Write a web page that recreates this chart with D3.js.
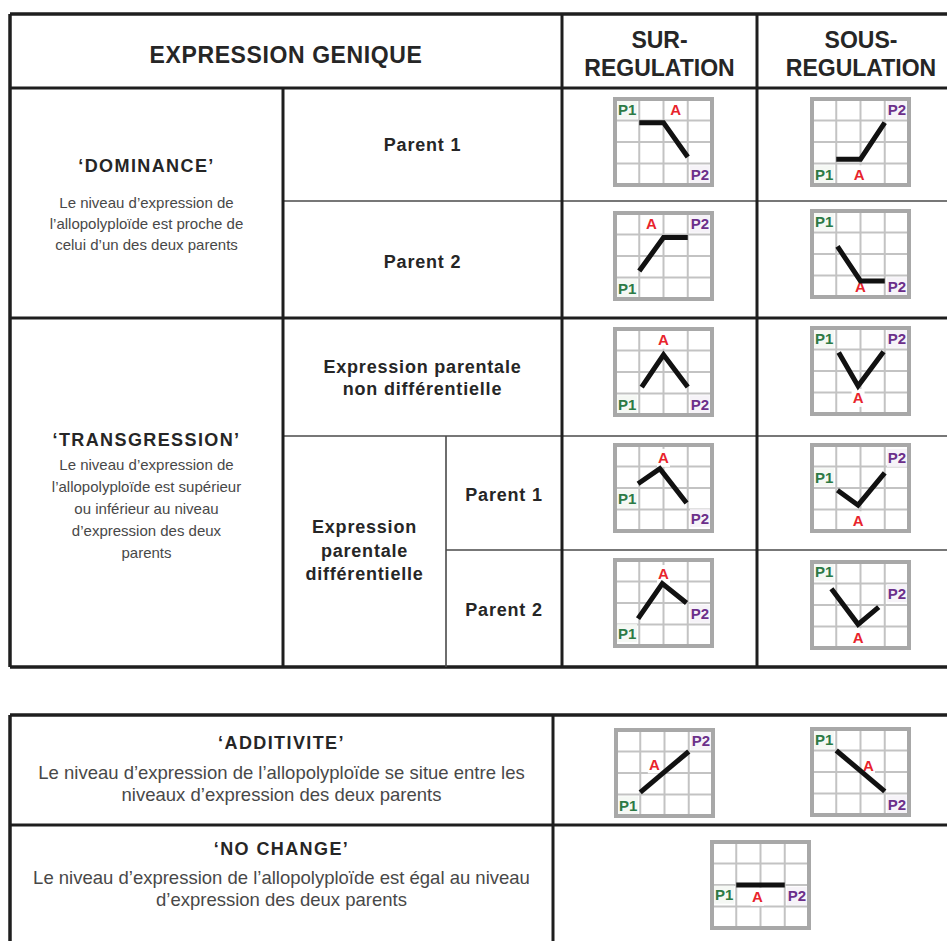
<!DOCTYPE html>
<html>
<head>
<meta charset="utf-8">
<script src="https://cdn.jsdelivr.net/npm/d3@7"></script>
<style>
  html, body { margin: 0; padding: 0; background: #fff; }
  svg { display: block; }
</style>
</head>
<body>
<div id="chart"></div>
<script>
// ---------------- DATA ----------------
const charts = ["domP1Sur","domP1Sous","domP2Sur","domP2Sous","transNdSur","transNdSous",
                "transD1Sur","transD1Sous","transD2Sur","transD2Sous","addSur","addSous","noChange"];
// grid units: x 0..4 (left->right), level 0..4 (bottom->top)
const p1X   = [1.0, 1.0, 1.0, 1.05, 1.1, 1.1, 0.95, 1.05, 0.95, 0.8, 1.0, 1.0, 1.0];
const p1Lvl = [2.9, 1.2, 1.3, 2.35, 1.3, 2.86, 2.2, 1.9, 1.27, 2.76, 1.1, 3.0, 2.0];
const aX    = [2.0, 2.0, 2.0, 2.0, 2.0, 1.9, 1.85, 1.9, 1.95, 1.9, 2.0, 2.0, 2.0];
const aLvl  = [2.9, 1.2, 2.86, 0.75, 2.8, 1.3, 2.9, 1.2, 2.9, 1.1, 2.05, 2.05, 2.0];
const p2X   = [3.0, 3.0, 3.0, 3.0, 3.0, 2.95, 2.95, 3.0, 2.95, 2.75, 3.0, 3.0, 3.0];
const p2Lvl = [1.3, 2.9, 2.86, 0.75, 1.3, 2.9, 1.3, 2.7, 2.0, 1.9, 3.0, 1.1, 2.0];
// label anchors (grid units)
const lblP1 = [[0.5,3.5],[0.5,0.5],[0.5,0.5],[0.5,3.5],[0.5,0.5],[0.5,3.5],[0.5,1.5],[0.5,2.5],[0.5,0.6],[0.5,3.55],[0.5,0.5],[0.5,3.5],[0.5,1.55]];
const lblA  = [[2.5,3.5],[1.95,0.5],[1.5,3.5],[2.0,0.5],[2.0,3.5],[1.9,0.75],[2.0,3.4],[1.9,0.5],[2.0,3.35],[1.9,0.5],[1.58,2.4],[2.33,2.3],[1.87,1.45]];
const lblP2 = [[3.5,0.5],[3.5,3.5],[3.5,3.5],[3.5,0.5],[3.5,0.5],[3.5,3.5],[3.5,0.6],[3.5,3.4],[3.5,1.5],[3.5,2.55],[3.5,3.5],[3.5,0.5],[3.5,1.5]];
const seriesNames = ["P1", "A", "P2"];

const headerLabels = ["EXPRESSION GENIQUE", ["SUR-", "REGULATION"], ["SOUS-", "REGULATION"]];
const dominanceTitle = "\u2018DOMINANCE\u2019";
const dominanceText = ["Le niveau d\u2019expression de", "l\u2019allopolyplo\u00efde est proche de", "celui d\u2019un des deux parents"];
const transTitle = "\u2018TRANSGRESSION\u2019";
const transText = ["Le niveau d\u2019expression de", "l\u2019allopolyplo\u00efde est sup\u00e9rieur", "ou inf\u00e9rieur au niveau", "d\u2019expression des deux", "parents"];
const parentLabels = ["Parent 1", "Parent 2"];
const nonDiffLabel = ["Expression parentale", "non diff\u00e9rentielle"];
const diffLabel = ["Expression", "parentale", "diff\u00e9rentielle"];
const addTitle = "\u2018ADDITIVITE\u2019";
const addText = ["Le niveau d\u2019expression de l\u2019allopolyplo\u00efde se situe entre les", "niveaux d\u2019expression des deux parents"];
const ncTitle = "\u2018NO CHANGE\u2019";
const ncText = ["Le niveau d\u2019expression de l\u2019allopolyplo\u00efde est \u00e9gal au niveau", "d\u2019expression des deux parents"];

// ---------------- DRAW ----------------
const W = 947, H = 941;
const svg = d3.select("#chart").append("svg").attr("width", W).attr("height", H);
const FONT = "'Liberation Sans', Arial, sans-serif";
const dark = "#262626", body = "#484848";

function line(x1, y1, x2, y2, w, c) {
  svg.append("line").attr("x1", x1).attr("y1", y1).attr("x2", x2).attr("y2", y2)
    .attr("stroke", c || "#1e1e1e").attr("stroke-width", w);
}
function txt(x, y, s, size, weight, color, ls) {
  svg.append("text").attr("x", x).attr("y", y).attr("text-anchor", "middle")
    .attr("font-family", FONT).attr("font-size", size).attr("font-weight", weight)
    .attr("letter-spacing", ls || 0)
    .attr("fill", color).text(s);
}
function lines(x, y0, arr, dy, size, weight, color, ls) {
  arr.forEach((s, i) => txt(x, y0 + i * dy, s, size, weight, color, ls));
}

// Top table grid
const X0 = 10, XA = 283, XB = 446, XC = 562, XD = 757, XE = 990;
const Y0 = 14, YH = 88, Y1 = 201, Y2 = 318, Y3 = 436, Y4 = 550, Y5 = 667;
line(X0, Y0, XE, Y0, 3.5);
line(X0, Y5, XE, Y5, 3.5);
line(X0, YH, XE, YH, 3);
line(X0, Y2, XE, Y2, 3);
line(XA, Y1, XE, Y1, 1.6, "#4a4a4a");
line(XA, Y3, XE, Y3, 1.6, "#4a4a4a");
line(XB, Y4, XE, Y4, 1.6, "#4a4a4a");
line(X0, Y0, X0, Y5, 3.5);
line(XA, YH, XA, Y5, 3);
line(XB, Y3, XB, Y5, 1.6, "#4a4a4a");
line(XC, Y0, XC, Y5, 3);
line(XD, Y0, XD, Y5, 3);

// Bottom table grid
const BX0 = 10, BXM = 553, BXR = 990, BY0 = 715, BY1 = 825, BY2 = 990;
line(BX0, BY0, BXR, BY0, 3.5);
line(BX0, BY1, BXR, BY1, 3);
line(BX0, BY0, BX0, BY2, 3.5);
line(BXM, BY0, BXM, BY2, 3);

// Header text
txt((X0 + XC) / 2, 63, headerLabels[0], 23, "bold", dark, 0.6);
lines((XC + XD) / 2, 48, headerLabels[1], 28, 23, "bold", dark);
lines(861, 48, headerLabels[2], 28, 23, "bold", dark);

// Row texts
const TS = 18, TLS = 1.4;   // section titles
const LS = 18, LLS = 0.8;   // bold row labels
txt((X0 + XA) / 2, 172, dominanceTitle, TS, "bold", dark, TLS);
lines((X0 + XA) / 2, 208, dominanceText, 21, 15, "normal", body);
txt((XA + XC) / 2, 151, parentLabels[0], LS, "bold", dark, LLS);
txt((XA + XC) / 2, 268, parentLabels[1], LS, "bold", dark, LLS);
lines((XA + XC) / 2, 373, nonDiffLabel, 22, LS, "bold", dark, LLS);
txt((X0 + XA) / 2, 446, transTitle, TS, "bold", dark, TLS);
lines((X0 + XA) / 2, 470, transText, 22, 15, "normal", body);
lines((XA + XB) / 2, 533, diffLabel, 23.5, LS, "bold", dark, LLS);
txt((XB + XC) / 2, 501, parentLabels[0], LS, "bold", dark, LLS);
txt((XB + XC) / 2, 616, parentLabels[1], LS, "bold", dark, LLS);

txt((BX0 + BXM) / 2, 749, addTitle, TS, "bold", dark, TLS);
lines((BX0 + BXM) / 2, 779, addText, 22, 18.5, "normal", body);
txt((BX0 + BXM) / 2, 855, ncTitle, TS, "bold", dark, TLS);
lines((BX0 + BXM) / 2, 884, ncText, 22, 18.5, "normal", body);

// Mini chart frames (layout)
const frames = {
  domP1Sur:   [615, 99],  domP1Sous:   [812, 99],
  domP2Sur:   [615, 213], domP2Sous:   [812, 211],
  transNdSur: [615, 329], transNdSous: [812, 328],
  transD1Sur: [615, 445], transD1Sous: [812, 445],
  transD2Sur: [615, 560], transD2Sous: [812, 562],
  addSur:     [616, 730], addSous:     [812, 729],
  noChange:   [712, 842]
};
const FW = 97, FH = 86;
const colors = { P1: "#2c7a45", A: "#e8242c", P2: "#6b2f8a" };
const bgs = { P1: "#f4f8f3", A: "#ffffff", P2: "#f6f2f8" };

charts.forEach((id, i) => {
  const [fx, fy] = frames[id];
  const x = d3.scaleLinear().domain([0, 4]).range([fx, fx + FW]);
  const y = d3.scaleLinear().domain([0, 4]).range([fy + FH, fy]);
  const g = svg.append("g");
  g.append("rect").attr("x", x(0)).attr("y", y(4)).attr("width", FW).attr("height", FH)
    .attr("fill", "#fff");
  d3.range(1, 4).forEach(k => {
    g.append("line").attr("x1", x(k)).attr("x2", x(k)).attr("y1", y(0)).attr("y2", y(4))
      .attr("stroke", "#c3c3c3").attr("stroke-width", 2);
    g.append("line").attr("x1", x(0)).attr("x2", x(4)).attr("y1", y(k)).attr("y2", y(k))
      .attr("stroke", "#c3c3c3").attr("stroke-width", 2);
  });

  const lbls = [lblP1[i], lblA[i], lblP2[i]];
  seriesNames.forEach((name, j) => {
    const [lx, ly] = lbls[j];
    const cx = x(lx), cy = y(ly);
    const w = name === "A" ? 13 : 20;
    g.append("rect").attr("x", cx - w / 2).attr("y", cy - 9).attr("width", w).attr("height", 18)
      .attr("fill", bgs[name]).attr("opacity", 0.95);
    g.append("text").attr("x", cx).attr("y", cy + 5.5).attr("text-anchor", "middle")
      .attr("font-family", FONT).attr("font-weight", "bold").attr("font-size", 15)
      .attr("fill", colors[name]).text(name);
  });

  g.append("rect").attr("x", x(0)).attr("y", y(4)).attr("width", FW).attr("height", FH)
    .attr("fill", "none").attr("stroke", "#a8a8a8").attr("stroke-width", 4);

  const pts = [[p1X[i], p1Lvl[i]], [aX[i], aLvl[i]], [p2X[i], p2Lvl[i]]];
  g.append("path")
    .attr("d", d3.line().x(d => x(d[0])).y(d => y(d[1]))(pts))
    .attr("fill", "none").attr("stroke", "#111").attr("stroke-width", 5)
    .attr("stroke-linejoin", "miter").attr("stroke-linecap", "butt");
});
</script>
</body>
</html>
